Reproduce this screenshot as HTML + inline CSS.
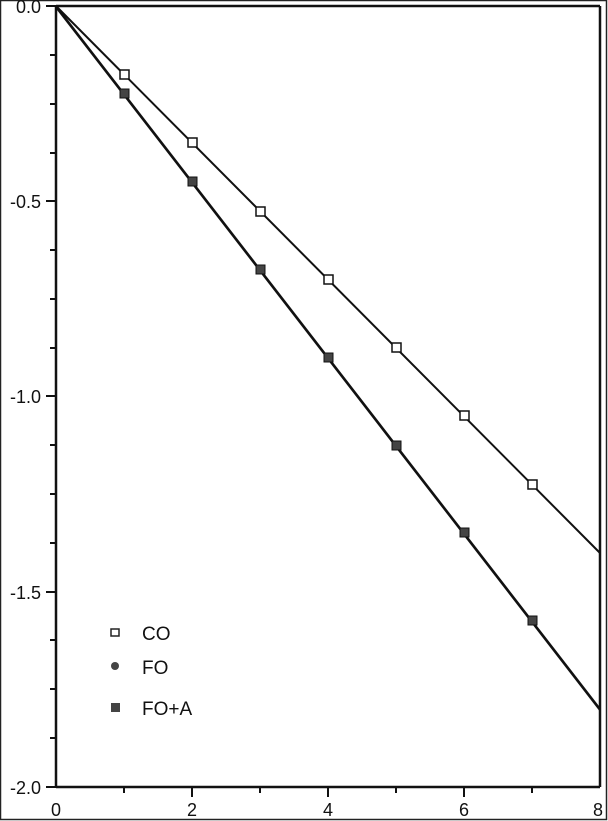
<html><body style="margin:0;background:#fff">
<svg width="608" height="821" xmlns="http://www.w3.org/2000/svg" font-family="Liberation Sans, sans-serif">
<rect x="0.5" y="0.5" width="606" height="819" fill="none" stroke="#222" stroke-width="1.5"/>
<g stroke="#111" stroke-width="2.5" fill="none">
<polyline points="56,6 600,6"/>
<line x1="56" y1="6" x2="56" y2="787"/>
<line x1="56" y1="787" x2="600" y2="787"/>
<line x1="600" y1="6" x2="600" y2="787"/>
</g>
<g stroke="#111" stroke-width="2">
<line x1="46" y1="6" x2="56" y2="6"/><line x1="50" y1="55" x2="56" y2="55"/><line x1="50" y1="104" x2="56" y2="104"/><line x1="50" y1="153" x2="56" y2="153"/>
<line x1="46" y1="201" x2="56" y2="201"/><line x1="50" y1="250" x2="56" y2="250"/><line x1="50" y1="299" x2="56" y2="299"/><line x1="50" y1="348" x2="56" y2="348"/>
<line x1="46" y1="396" x2="56" y2="396"/><line x1="50" y1="445" x2="56" y2="445"/><line x1="50" y1="494" x2="56" y2="494"/><line x1="50" y1="543" x2="56" y2="543"/>
<line x1="46" y1="592" x2="56" y2="592"/><line x1="50" y1="640" x2="56" y2="640"/><line x1="50" y1="689" x2="56" y2="689"/><line x1="50" y1="738" x2="56" y2="738"/>
<line x1="46" y1="787" x2="56" y2="787"/>
<line x1="124" y1="787" x2="124" y2="793"/><line x1="192" y1="787" x2="192" y2="797"/><line x1="260" y1="787" x2="260" y2="793"/><line x1="328" y1="787" x2="328" y2="797"/>
<line x1="396" y1="787" x2="396" y2="793"/><line x1="464" y1="787" x2="464" y2="797"/><line x1="532" y1="787" x2="532" y2="793"/>
</g>
<g font-size="18" fill="#111" text-anchor="end">
<text x="41" y="13">0.0</text><text x="41" y="208">-0.5</text><text x="41" y="403">-1.0</text><text x="41" y="599">-1.5</text><text x="41" y="794">-2.0</text>
</g>
<g font-size="18" fill="#111" text-anchor="middle">
<text x="56" y="816">0</text><text x="192" y="816">2</text><text x="328" y="816">4</text><text x="464" y="816">6</text><text x="598" y="816">8</text>
</g>
<g stroke="#111" stroke-width="2" fill="none">
<line x1="56" y1="6" x2="600" y2="553"/>
<line x1="56" y1="6" x2="600" y2="709"/>
<line x1="56" y1="7.5" x2="600" y2="710.5" stroke-width="1.5"/>
</g>
<g stroke="#111" stroke-width="1.5" fill="#fff">
<rect x="120" y="70" width="9" height="9"/><rect x="188" y="138" width="9" height="9"/><rect x="256" y="207" width="9" height="9"/><rect x="324" y="275" width="9" height="9"/><rect x="392" y="343" width="9" height="9"/><rect x="460" y="411" width="9" height="9"/><rect x="528" y="480" width="9" height="9"/>
</g>
<g fill="#444" stroke="#111" stroke-width="1">
<rect x="120" y="89" width="9" height="9"/><rect x="188" y="177" width="9" height="9"/><rect x="256" y="265" width="9" height="9"/><rect x="324" y="353" width="9" height="9"/><rect x="392" y="441" width="9" height="9"/><rect x="460" y="528" width="9" height="9"/><rect x="528" y="616" width="9" height="9"/>
</g>
<rect x="111" y="629" width="8" height="7" fill="#fff" stroke="#222" stroke-width="1.5"/>
<circle cx="115" cy="666" r="4" fill="#444"/>
<rect x="111" y="703" width="9" height="9" fill="#444"/>
<g font-size="19" fill="#111">
<text x="142" y="640">CO</text><text x="142" y="674">FO</text><text x="142" y="715">FO+A</text>
</g>
</svg>
</body></html>
